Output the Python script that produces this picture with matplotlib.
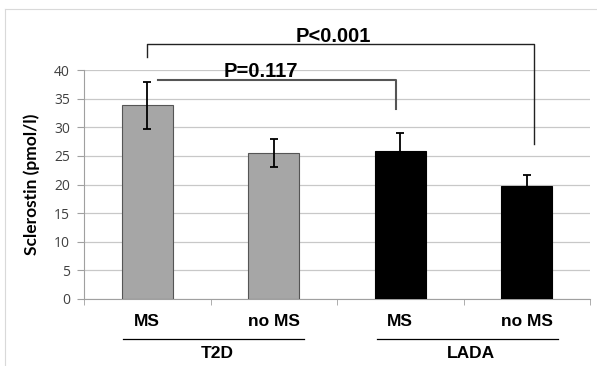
"""
Sclerostin bar chart: T2D vs LADA, with / without MS.
"""
import matplotlib
matplotlib.use("Agg")
import matplotlib.pyplot as plt
from matplotlib.lines import Line2D

categories = ["MS", "no MS", "MS", "no MS"]
groups = ["T2D", "LADA"]
means = [33.8, 25.5, 25.9, 19.7]
errors = [4.1, 2.4, 3.1, 1.9]
bar_colors = ["#a6a6a6", "#a6a6a6", "#000000", "#000000"]
edge_colors = ["#555555", "#555555", "#000000", "#000000"]
yticks = [0, 5, 10, 15, 20, 25, 30, 35, 40]

BOLD = "Liberation Sans"

fig = plt.figure(figsize=(5.97, 3.66), dpi=100)
# light frame on the left and top edges
fx, fy = 4.5 / 597, 1 - 8.5 / 366
fig.add_artist(Line2D([fx, fx], [0, fy], transform=fig.transFigure,
                      color="#d9d9d9", lw=0.8))
fig.add_artist(Line2D([fx, 1], [fy, fy], transform=fig.transFigure,
                      color="#d9d9d9", lw=0.8))

ax = fig.add_axes([84 / 597, 1 - 299 / 366, 506 / 597, 229 / 366])

x = list(range(len(categories)))
ax.bar(x, means, width=0.4, color=bar_colors, edgecolor=edge_colors,
       lw=0.8, zorder=3)
ax.errorbar(x, means, yerr=errors, fmt="none", ecolor="black",
            elinewidth=1.3, capsize=3, capthick=1.3, zorder=4)

ax.set_xlim(-0.5, 3.5)
ax.set_ylim(0, 40)
ax.set_yticks(yticks)
ax.grid(axis="y", color="#c8c8c8", lw=0.9, zorder=0)
for s in ["top", "right"]:
    ax.spines[s].set_visible(False)
for s in ["left", "bottom"]:
    ax.spines[s].set_color("#a0a0a0")
ax.tick_params(axis="y", colors="#a0a0a0", labelcolor="#404040",
               labelsize=10, length=5, pad=5)
for lab in ax.get_yticklabels():
    lab.set_family("Open Sans")

ax.set_xticks(x)
ax.set_xticklabels(categories, fontsize=12.5, fontweight="bold",
                   family=BOLD)
ax.tick_params(axis="x", length=0, pad=11)
ax.set_xticks([-0.5, 0.5, 1.5, 2.5, 3.5], minor=True)
ax.tick_params(axis="x", which="minor", length=4, color="#a0a0a0")

ax.set_ylabel("Sclerostin (pmol/l)", fontsize=12.5, fontweight="bold",
              family="Lato", labelpad=10)

# group lines under the categories
tr = ax.get_xaxis_transform()
for (x0, x1, tx), g in zip([(-0.19, 1.24, 0.55), (1.82, 3.25, 2.56)], groups):
    ax.plot([x0, x1], [-0.175, -0.175], color="black", lw=0.9,
            transform=tr, clip_on=False)
    ax.text(tx, -0.238, g, transform=tr, ha="center", va="center",
            fontsize=12.5, fontweight="bold", family=BOLD)

# significance brackets
ax.plot([0.0, 0.0, 3.06, 3.06], [42.3, 44.55, 44.55, 27.1],
        color="#222222", lw=1.0, clip_on=False)
ax.text(1.47, 44.9, "P<0.001", ha="center", va="baseline",
        fontsize=14.5, fontweight="bold", family=BOLD)
ax.plot([0.085, 1.97, 1.97], [38.25, 38.25, 33.2],
        color="#555555", lw=1.5, clip_on=False)
ax.text(0.9, 38.8, "P=0.117", ha="center", va="baseline",
        fontsize=14.5, fontweight="bold", family=BOLD)

fig.savefig("out.png", dpi=100)
plt.close(fig)
